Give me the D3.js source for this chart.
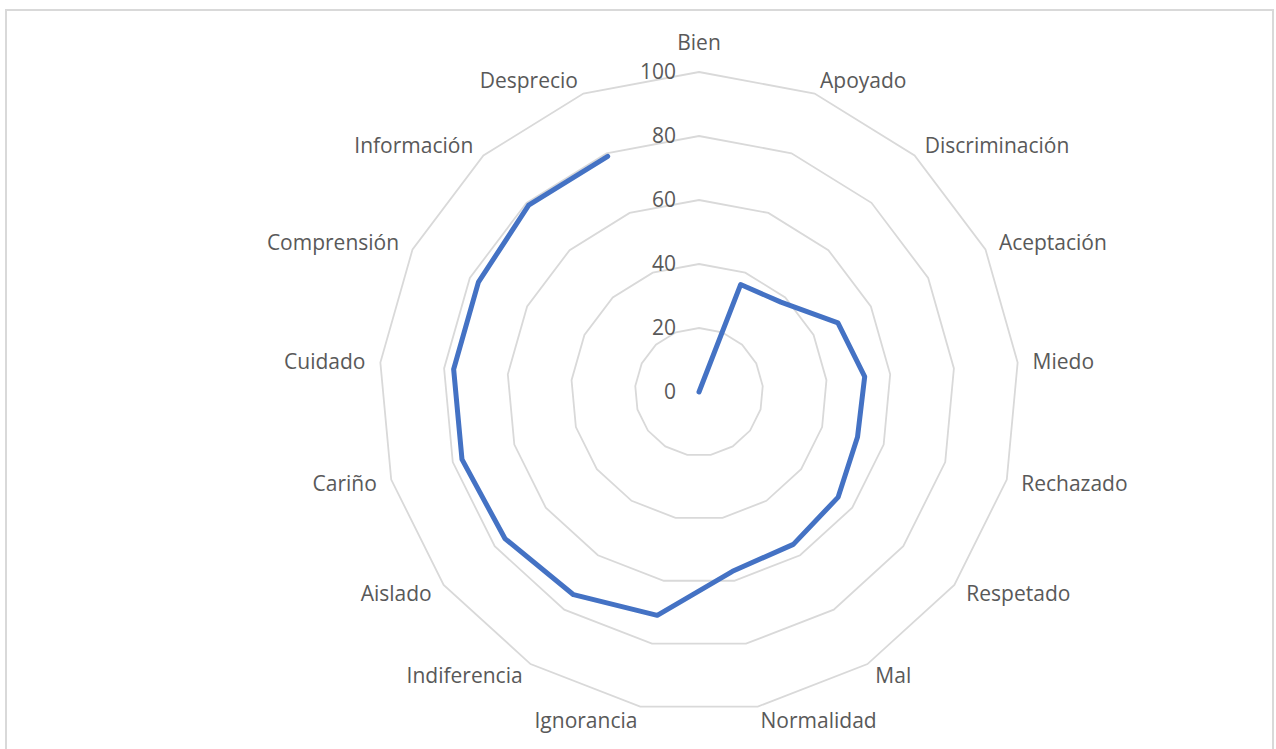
<!DOCTYPE html>
<html><head><meta charset="utf-8">
<script src="https://cdn.jsdelivr.net/npm/d3@7"></script>
<style>body{margin:0;background:#fff;overflow:hidden}</style>
</head><body><svg id="c" width="1276" height="749"></svg>
<script>
const categories = ["Bien","Apoyado","Discriminación","Aceptación","Miedo","Rechazado","Respetado","Mal","Normalidad","Ignorancia","Indiferencia","Aislado","Cariño","Cuidado","Comprensión","Información","Desprecio"];
const values = [0,36,38,48.5,52,51.5,54.5,56,57,71,74.5,76,77,77,77,79,79];
const tickValues = [0,20,40,60,80,100];

const svg = d3.select("#c");
const cx = 699, cy = 392, R = 320;
const font = "'Open Sans', 'Segoe UI', sans-serif";
const textColor = "#595959";

// border
svg.append("rect").attr("x",6).attr("y",10).attr("width",1267).attr("height",800)
  .attr("fill","#fff").attr("stroke","#d9d9d9").attr("stroke-width",2);

const r = d3.scaleLinear().domain([0,100]).range([0,R]);
const a = d3.scaleLinear().domain([0,categories.length]).range([0,2*Math.PI]);

const g = svg.append("g").attr("transform",`translate(${cx},${cy})`);

// rings
const ring = d3.lineRadial().angle((d,i)=>a(i)).curve(d3.curveLinearClosed);
tickValues.filter(t=>t>0).forEach(t=>{
  g.append("path").attr("d", ring.radius(()=>r(t))(categories))
    .attr("fill","none").attr("stroke","#d9d9d9").attr("stroke-width",1.8);
});

// tick labels
g.selectAll("text.tick").data(tickValues).join("text")
  .attr("class","tick")
  .attr("x",-23).attr("y",d=>-r(d)).attr("dy","0.35em")
  .attr("text-anchor","end")
  .attr("font-family",font).attr("font-size",21).attr("fill",textColor)
  .text(d=>d);

// category labels
g.selectAll("text.cat").data(categories).join("text")
  .attr("class","cat")
  .each(function(d,i){
    const ang = a(i), s = Math.sin(ang), c = Math.cos(ang);
    const vx = r(100)*s, vy = -r(100)*c;
    const t = d3.select(this);
    if (Math.abs(s) < 0.05) {
      t.attr("x", vx).attr("y", vy - 29).attr("text-anchor","middle");
    } else {
      t.attr("x", vx + 15*s).attr("y", vy - 14*c).attr("text-anchor", s>0?"start":"end");
    }
  })
  .attr("dy","0.35em")
  .attr("font-family",font).attr("font-size",21).attr("fill",textColor)
  .text(d=>d);

// data line (open)
const line = d3.lineRadial().angle((d,i)=>a(i)).radius(d=>r(d));
g.append("path").attr("d", line(values))
  .attr("fill","none").attr("stroke","#4472c4").attr("stroke-width",5)
  .attr("stroke-linejoin","round").attr("stroke-linecap","round");
</script>
</body></html>
